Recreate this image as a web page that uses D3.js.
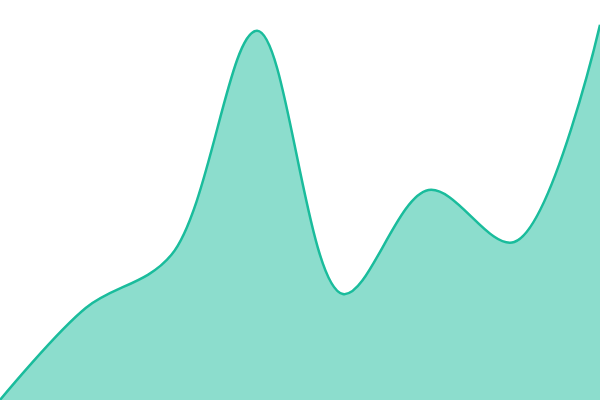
<!DOCTYPE html>
<html>
<head>
<meta charset="utf-8">
<style>
  html, body { margin: 0; padding: 0; background: #fff; }
  svg { display: block; }
</style>
<script src="https://d3js.org/d3.v7.min.js"></script>
</head>
<body>
<svg width="600" height="400"></svg>
<script>
// data
var steps = [0, 1, 2, 3, 4, 5, 6, 7];
var values = [0, 23, 36.3, 92.3, 26.5, 52.5, 39.5, 93.8];

var svg = d3.select("svg"),
    width = +svg.attr("width"),
    height = +svg.attr("height");

var x = d3.scaleLinear().domain(d3.extent(steps)).range([0, width]);
var y = d3.scaleLinear().domain([0, 100]).range([height, 0]);

var data = steps.map(function(s, i) { return {s: s, v: values[i]}; });

var area = d3.area()
    .curve(d3.curveCatmullRom)
    .x(function(d) { return x(d.s); })
    .y0(height)
    .y1(function(d) { return y(d.v); });

var line = d3.line()
    .curve(d3.curveCatmullRom)
    .x(function(d) { return x(d.s); })
    .y(function(d) { return y(d.v); });

svg.append("path")
    .datum(data)
    .attr("fill", "#1abc9c")
    .attr("fill-opacity", 0.5)
    .attr("d", area);

svg.append("path")
    .datum(data)
    .attr("fill", "none")
    .attr("stroke", "#1abc9c")
    .attr("stroke-width", 2.5)
    .attr("d", line);
</script>
</body>
</html>
